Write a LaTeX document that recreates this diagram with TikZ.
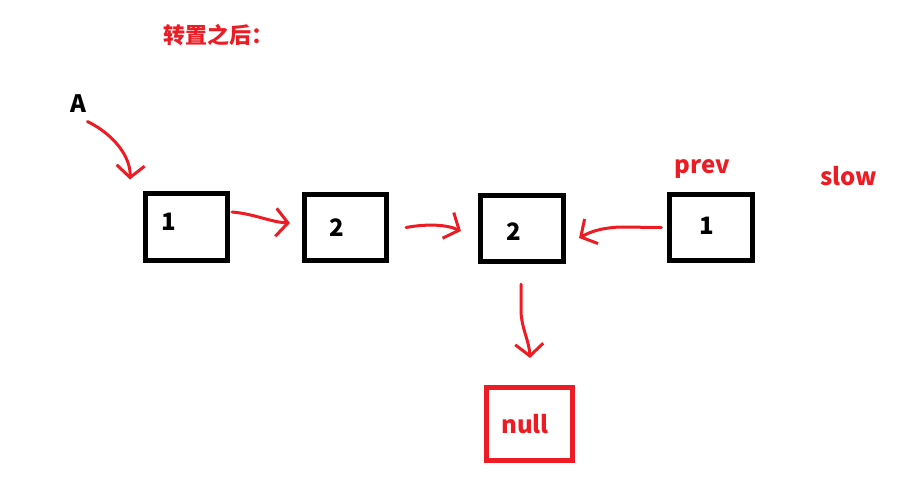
\documentclass[tikz,border=0pt]{standalone}
\usepackage{fontspec}
\setmainfont{Noto Sans CJK SC}
\usetikzlibrary{arrows.meta}
\definecolor{paintred}{RGB}{237,28,36}
\begin{document}
\begin{tikzpicture}
  [x=1pt,y=-1pt,
   font=\bfseries\fontsize{24}{28}\selectfont,
   cell/.style={draw,line width=4.6pt,minimum width=82.5pt,minimum height=66.5pt},
   pointer/.style={draw=paintred,line width=3pt,line cap=round,line join=round,
     -{Straight Barb[length=12pt,width=28pt]}}]
  \useasboundingbox (0,0) rectangle (919,490);
  % labels
  \node (title) [anchor=base west,text=paintred,font=\bfseries\fontsize{22}{26}\selectfont]
    at (160,43) {转置之后：};
  \node (head label) [anchor=base] at (78,112) {A};
  \node (prev label) [anchor=base,text=paintred] at (702,173) {prev};
  \node (slow label) [anchor=base,text=paintred] at (849,185) {slow};
  % list cells
  \node (node1) [cell,label={[xshift=-18pt,yshift=5pt]center:1}] at (186.5,227) {};
  \node (node2) [cell,label={[xshift=-8.5pt]center:2}] at (345.5,227.5) {};
  \node (node3) [cell,label={[xshift=-8pt,yshift=-3.5pt]center:2}] at (522,228.5) {};
  \node (node4) [cell,label={[xshift=-4pt,yshift=1.5pt]center:1}] at (711,227.5) {};
  \node (null box)
    [cell,draw=paintred,minimum width=86.5pt,minimum height=73.5pt,
     label={[xshift=-4.5pt,text=paintred]center:null}]
    at (529.5,424) {};
  % pointers
  \draw [pointer]
    ([shift={(-2,6)}]head label.south east)
    .. controls (115,135) and (131,158) ..
    ([shift={(-13,-12)}]node1.north west)
  ;
  \draw [pointer]
    ([shift={(2,-15)}]node1.east)
    .. controls (255,214) and (270,222) ..
    ([shift={(-12,-4.5)}]node2.west)
  ;
  \draw [pointer]
    ([shift={(17,0)}]node2.east)
    .. controls (425,224) and (445,224) ..
    ([shift={(-17.5,2.5)}]node3.west)
  ;
  \draw [pointer]
    ([shift={(-6,0)}]node4.west)
    -- (620,227)
    .. controls (600,228) and (590,232) ..
    ([shift={(13.5,9.5)}]node3.east)
  ;
  \draw [pointer]
    ([shift={(-1,20)}]node3.south)
    -- (521,312)
    .. controls (522,330) and (529,340) ..
    ([shift={(0.5,-27)}]null box.north)
  ;
\end{tikzpicture}
\end{document}
